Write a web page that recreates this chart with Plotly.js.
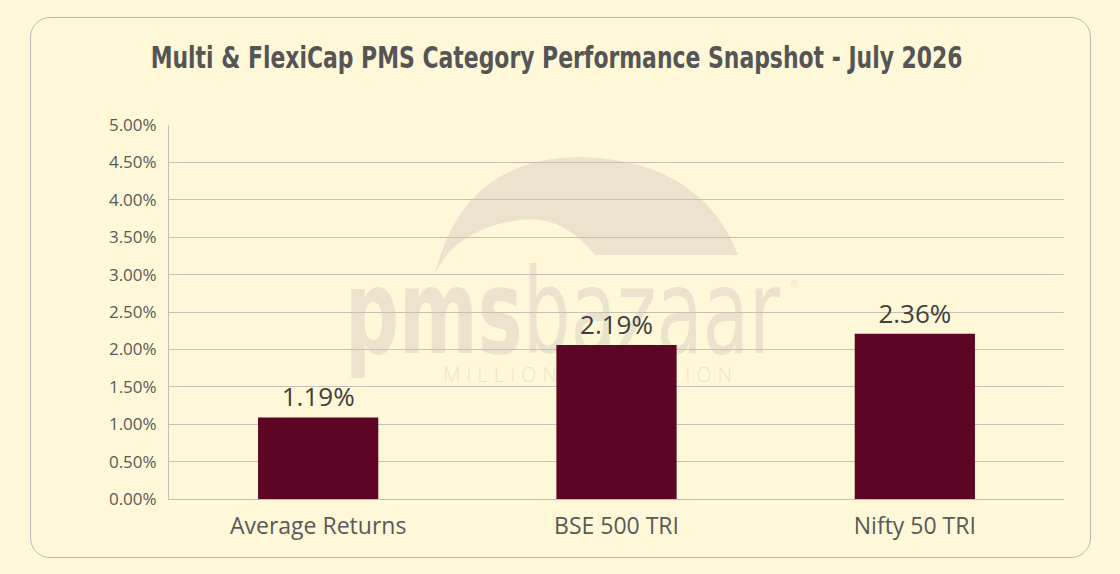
<!DOCTYPE html>
<html>
<head>
<meta charset="utf-8">
<script src="https://cdn.plot.ly/plotly-3.0.1.min.js"></script>
<style>
  html, body { margin: 0; padding: 0; background: #FFF8D8; }
  #wrap { position: relative; width: 1120px; height: 574px; }
  #chart { position: absolute; left: 0; top: 0; width: 1120px; height: 574px; }
  #frame { position: absolute; left: 30px; top: 17px; width: 1059px; height: 539px;
           border: 1px solid #BDBAAE; border-radius: 20px; pointer-events: none; }
  .gtitle { font-stretch: condensed; }
</style>
</head>
<body>
<div id="wrap">
  <div id="chart"></div>
  <div id="frame"></div>
</div>
<script>
// ---- data ----
const categories = ["Average Returns", "BSE 500 TRI", "Nifty 50 TRI"];
const barValues = [1.09, 2.06, 2.21];          // bar heights as drawn (%)
const barLabels = ["1.19%", "2.19%", "2.36%"]; // data labels shown above bars
const yTickVals = [0, 0.5, 1, 1.5, 2, 2.5, 3, 3.5, 4, 4.5, 5];
const yTickText = ["0.00%", "0.50%", "1.00%", "1.50%", "2.00%", "2.50%", "3.00%", "3.50%", "4.00%", "4.50%", "5.00%"];
const titleText = "Multi &amp; FlexiCap PMS Category Performance Snapshot - July 2026";

// ---- layout helpers ----
const W = 1120, H = 574;
const M = { l: 169, r: 56, t: 125, b: 75 };
const pw = W - M.l - M.r, ph = H - M.t - M.b;
function px(x) { return (x - M.l) / pw; }
function py(y) { return (H - M.b - y) / ph; }

// faint background watermark (decoration), drawn below the grid and bars
const wmColor = "#EAE4CE";
const wmSvg =
  '<svg xmlns="http://www.w3.org/2000/svg" width="480" height="260" viewBox="0 0 480 260">' +
  '<path d="M105,133 Q135,15 255,17 Q372,22 408,115 L265,115 Q232,74 190,80 Q128,88 105,133 Z" fill="' + wmColor + '"/>' +
  '<text x="15" y="213" textLength="435" lengthAdjust="spacingAndGlyphs" font-family="DejaVu Sans Condensed, DejaVu Sans, sans-serif" font-stretch="condensed" font-size="118" fill="' + wmColor + '">' +
  '<tspan font-weight="bold">pms</tspan><tspan font-weight="normal">bazaar</tspan></text>' +
  '<text x="459" y="148" font-family="DejaVu Sans, sans-serif" font-size="11" fill="' + wmColor + '">®</text>' +
  '<text x="113" y="242" textLength="289" lengthAdjust="spacing" font-family="Open Sans, sans-serif" font-weight="300" font-size="20" fill="' + wmColor + '">MILLION TO BILLION</text>' +
  '</svg>';
const wmSrc = "data:image/svg+xml;charset=utf-8," + encodeURIComponent(wmSvg);

const trace = {
  type: "bar",
  x: categories,
  y: barValues,
  text: barLabels,
  textposition: "outside",
  texttemplate: "%{text}",
  textfont: { family: "Open Sans, sans-serif", size: 26, color: "#404040" },
  cliponaxis: false,
  marker: { color: "#5E0425", line: { width: 0 } },
  hoverinfo: "skip"
};

const layout = {
  width: W, height: H,
  margin: M,
  paper_bgcolor: "rgba(0,0,0,0)",
  plot_bgcolor: "rgba(0,0,0,0)",
  showlegend: false,
  bargap: 0.597,
  title: {
    text: "<b>" + titleText + "</b>",
    font: { family: "DejaVu Sans Condensed, DejaVu Sans, sans-serif", size: 31, color: "#555555" },
    xref: "container", x: 0.497, xanchor: "center",
    yref: "container", y: 1 - 57 / H, yanchor: "middle"
  },
  xaxis: {
    type: "category",
    showgrid: false,
    showline: true, linecolor: "#BFBFBF", linewidth: 1,
    ticks: "",
    ticklabelstandoff: 6,
    tickfont: { family: "Open Sans, sans-serif", size: 23, color: "#595959" },
    fixedrange: true
  },
  yaxis: {
    range: [0, 5],
    tickvals: yTickVals,
    ticktext: yTickText,
    showgrid: true, gridcolor: "#C4C1B4", gridwidth: 1,
    showline: true, linecolor: "#C4C1B4", linewidth: 1,
    zeroline: false,
    ticks: "",
    ticklabelstandoff: 8,
    tickfont: { family: "Open Sans, sans-serif", size: 17, color: "#595959" },
    fixedrange: true
  },
  images: [{
    source: wmSrc, layer: "below",
    xref: "paper", yref: "paper",
    x: px(330), y: py(140), xanchor: "left", yanchor: "top",
    sizex: 480 / pw, sizey: 260 / ph, sizing: "stretch"
  }]
};

Plotly.newPlot("chart", [trace], layout, { displayModeBar: false, staticPlot: true }).then(function (gd) {
  // fit the bold condensed title to the reference's width
  const t = gd.querySelector(".gtitle");
  if (t) {
    t.setAttribute("textLength", "812");
    t.setAttribute("lengthAdjust", "spacingAndGlyphs");
  }
});
</script>
</body>
</html>
